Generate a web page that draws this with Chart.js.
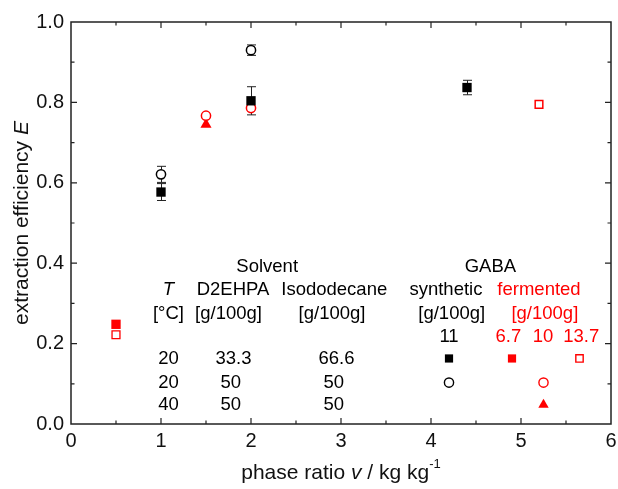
<!DOCTYPE html>
<html>
<head>
<meta charset="utf-8">
<script src="https://cdn.jsdelivr.net/npm/chart.js@4.4.0/dist/chart.umd.min.js"></script>
<style>
  html, body { margin: 0; padding: 0; background: #fff; }
</style>
</head>
<body>
<canvas id="chart" width="618" height="489"></canvas>
<script>
(function() {
    'use strict';

    // Axis ticks
    const xTicks = [0, 1, 2, 3, 4, 5, 6];
    const yTicks = [0, 0.2, 0.4, 0.6, 0.8, 1.0];

    // synthetic GABA 11 g/100g, 20 °C, D2EHPA 33.3 / isododecane 66.6
    const synSquareX = [1, 2, 4.4];
    const synSquareY = [0.577, 0.804, 0.837];
    const synSquareErr = [0.021, 0.035, 0.018];

    // synthetic GABA 11 g/100g, 20 °C, 50 / 50
    const synCircleX = [1, 2];
    const synCircleY = [0.621, 0.930];
    const synCircleErr = [0.020, 0.013];

    // fermented GABA 10 g/100g, 20 °C, 50 / 50
    const ferCircleX = [1.5, 2];
    const ferCircleY = [0.767, 0.786];

    // fermented GABA 10 g/100g, 40 °C, 50 / 50
    const ferTriangleX = [1.5];
    const ferTriangleY = [0.745];

    // fermented GABA 6.7 g/100g, 20 °C, 33.3 / 66.6
    const ferSquareX = [0.5];
    const ferSquareY = [0.248];

    // fermented GABA 13.7 g/100g, 20 °C, 33.3 / 66.6
    const ferOpenSquareX = [5.2];
    const ferOpenSquareY = [0.795];

    // crossed red square
    const ferCrossSquareX = [0.5];
    const ferCrossSquareY = [0.222];

    // legend keys inside the table
    const keyRowY = [0.163, 0.103, 0.048];
    const keySynX = 4.2;
    const keyFer67X = 4.9;
    const keyFer10X = 5.25;
    const keyFer137X = 5.65;

    const RED = '#ff0000';
    const BLACK = '#000000';
    const FONT = '"Liberation Sans", Arial, sans-serif';

    const pts = (xs, ys) => xs.map((x, i) => ({ x: x, y: ys[i] }));

    function series(data, style, radius, fill, stroke, width) {
        return {
            data: data,
            pointStyle: style,
            pointRadius: radius,
            pointHoverRadius: radius,
            pointBackgroundColor: fill,
            pointBorderColor: stroke,
            pointBorderWidth: width,
            showLine: false
        };
    }

    const datasets = [
        Object.assign(series(pts(synSquareX, synSquareY), 'rect', 6.6, BLACK, BLACK, 0), { errors: synSquareErr }),
        Object.assign(series(pts(synCircleX, synCircleY), 'circle', 4.6, '#ffffff', BLACK, 1.5), { errors: synCircleErr }),
        series(pts(ferCircleX, ferCircleY), 'circle', 4.6, '#ffffff', RED, 1.5),
        series(pts(ferTriangleX, ferTriangleY), 'triangle', 6.4, RED, RED, 0),
        series(pts(ferSquareX, ferSquareY), 'rect', 6.6, RED, RED, 0),
        series(pts(ferOpenSquareX, ferOpenSquareY), 'rect', 5.4, '#ffffff', RED, 1.5),
        series(pts(ferCrossSquareX, ferCrossSquareY), 'rect', 5.6, '#ffffff', RED, 1.3),
        series(pts(ferCrossSquareX, ferCrossSquareY), 'cross', 3.6, RED, RED, 1.1),
        // legend keys
        series([{ x: keySynX, y: keyRowY[0] }], 'rect', 5.8, BLACK, BLACK, 0),
        series([{ x: keyFer67X, y: keyRowY[0] }], 'rect', 5.8, RED, RED, 0),
        series([{ x: keyFer137X, y: keyRowY[0] }], 'rect', 5.2, '#ffffff', RED, 1.4),
        series([{ x: keySynX, y: keyRowY[1] }], 'circle', 4.6, '#ffffff', BLACK, 1.4),
        series([{ x: keyFer10X, y: keyRowY[1] }], 'circle', 4.6, '#ffffff', RED, 1.4),
        series([{ x: keyFer10X, y: keyRowY[2] }], 'triangle', 6.0, RED, RED, 0)
    ];

    // Table text in data coordinates
    const tableText = [
        ['Solvent', 2.18, 0.392, BLACK],
        ['GABA', 4.66, 0.392, BLACK],
        ['T', 1.083, 0.333, BLACK, true],
        ['D2EHPA', 1.80, 0.333, BLACK],
        ['Isododecane', 2.925, 0.333, BLACK],
        ['synthetic', 4.166, 0.333, BLACK],
        ['fermented', 5.20, 0.333, RED],
        ['[°C]', 1.083, 0.275, BLACK],
        ['[g/100g]', 1.75, 0.275, BLACK],
        ['[g/100g]', 2.90, 0.275, BLACK],
        ['[g/100g]', 4.23, 0.275, BLACK],
        ['[g/100g]', 5.265, 0.275, RED],
        ['11', 4.2, 0.217, BLACK],
        ['6.7', 4.86, 0.217, RED],
        ['10', 5.245, 0.217, RED],
        ['13.7', 5.67, 0.217, RED],
        ['20', 1.083, 0.161, BLACK],
        ['33.3', 1.806, 0.161, BLACK],
        ['66.6', 2.95, 0.161, BLACK],
        ['20', 1.083, 0.1025, BLACK],
        ['50', 1.775, 0.1025, BLACK],
        ['50', 2.92, 0.1025, BLACK],
        ['40', 1.083, 0.047, BLACK],
        ['50', 1.775, 0.047, BLACK],
        ['50', 2.92, 0.047, BLACK]
    ];

    const errorBarPlugin = {
        id: 'errorBars',
        beforeDatasetsDraw: function(chart) {
            const ctx = chart.ctx;
            const xs = chart.scales.x, ys = chart.scales.y;
            ctx.save();
            ctx.strokeStyle = '#222';
            ctx.lineWidth = 1;
            chart.data.datasets.forEach(ds => {
                if (!ds.errors) return;
                ds.data.forEach((p, i) => {
                    const px = Math.round(xs.getPixelForValue(p.x)) + 0.5;
                    const top = ys.getPixelForValue(p.y + ds.errors[i]);
                    const bot = ys.getPixelForValue(p.y - ds.errors[i]);
                    ctx.beginPath();
                    ctx.moveTo(px, top); ctx.lineTo(px, bot);
                    ctx.moveTo(px - 4.5, top); ctx.lineTo(px + 4.5, top);
                    ctx.moveTo(px - 4.5, bot); ctx.lineTo(px + 4.5, bot);
                    ctx.stroke();
                });
            });
            ctx.restore();
        }
    };

    const framePlugin = {
        id: 'frame',
        afterDatasetsDraw: function(chart) {
            const ctx = chart.ctx;
            const a = chart.chartArea;
            const xs = chart.scales.x, ys = chart.scales.y;
            ctx.save();

            // table text
            ctx.textAlign = 'center';
            ctx.textBaseline = 'middle';
            tableText.forEach(t => {
                ctx.font = (t[4] ? 'italic ' : '') + '18.5px ' + FONT;
                ctx.fillStyle = t[3];
                ctx.fillText(t[0], xs.getPixelForValue(t[1]), ys.getPixelForValue(t[2]));
            });

            // frame with inward ticks on all sides
            ctx.strokeStyle = '#222';
            ctx.lineWidth = 1.5;
            ctx.strokeRect(a.left, a.top, a.right - a.left, a.bottom - a.top);
            ctx.lineWidth = 1.2;
            ctx.beginPath();
            for (let v = 0.5; v < 6; v += 0.5) {
                const px = xs.getPixelForValue(v);
                const len = Number.isInteger(v) ? 6 : 3.5;
                ctx.moveTo(px, a.bottom); ctx.lineTo(px, a.bottom - len);
                ctx.moveTo(px, a.top); ctx.lineTo(px, a.top + len);
            }
            for (let k = 1; k < 10; k++) {
                const py = ys.getPixelForValue(k / 10);
                const len = k % 2 === 0 ? 6 : 3.5;
                ctx.moveTo(a.left, py); ctx.lineTo(a.left + len, py);
                ctx.moveTo(a.right, py); ctx.lineTo(a.right - len, py);
            }
            ctx.stroke();

            // axis titles
            ctx.fillStyle = '#111';
            ctx.textBaseline = 'middle';
            const F = '21px ' + FONT;
            const FI = 'italic 21px ' + FONT;
            ctx.font = F;
            const xMain = 'phase ratio ';
            const xItal = 'v';
            const xRest = ' / kg kg';
            const wMain = ctx.measureText(xMain).width;
            const wRest = ctx.measureText(xRest).width;
            ctx.font = FI;
            const wItal = ctx.measureText(xItal).width;
            ctx.font = '13px ' + FONT;
            const wSup = ctx.measureText('-1').width;
            let cx = (a.left + a.right) / 2 - (wMain + wItal + wRest + wSup) / 2;
            const ty = 473;
            ctx.textAlign = 'left';
            ctx.font = F;
            ctx.fillText(xMain, cx, ty); cx += wMain;
            ctx.font = FI;
            ctx.fillText(xItal, cx, ty); cx += wItal;
            ctx.font = F;
            ctx.fillText(xRest, cx, ty); cx += wRest;
            ctx.font = '13px ' + FONT;
            ctx.fillText('-1', cx, ty - 9);

            ctx.translate(22, (a.top + a.bottom) / 2);
            ctx.rotate(-Math.PI / 2);
            ctx.font = F;
            const yMain = 'extraction efficiency ';
            const wy = ctx.measureText(yMain).width;
            ctx.font = FI;
            const wE = ctx.measureText('E').width;
            const cy = -(wy + wE) / 2;
            ctx.font = F;
            ctx.fillText(yMain, cy, 0);
            ctx.font = FI;
            ctx.fillText('E', cy + wy, 0);
            ctx.restore();
        }
    };

    new Chart(document.getElementById('chart').getContext('2d'), {
        type: 'scatter',
        data: { datasets: datasets },
        options: {
            responsive: false,
            animation: false,
            events: [],
            layout: { padding: { top: 22, right: 0, left: 0, bottom: 0 } },
            plugins: {
                legend: { display: false },
                tooltip: { enabled: false }
            },
            scales: {
                x: {
                    type: 'linear',
                    min: xTicks[0],
                    max: xTicks[xTicks.length - 1],
                    afterBuildTicks: s => { s.ticks = xTicks.map(v => ({ value: v })); },
                    afterFit: s => { s.height = 65; s.paddingRight = 7; },
                    grid: { display: false, drawTicks: false, tickLength: 0 },
                    border: { display: false },
                    ticks: {
                        color: '#111',
                        padding: 5,
                        maxRotation: 0,
                        font: { family: FONT, size: 20 },
                        callback: v => String(v)
                    }
                },
                y: {
                    type: 'linear',
                    min: yTicks[0],
                    max: yTicks[yTicks.length - 1],
                    afterBuildTicks: s => { s.ticks = yTicks.map(v => ({ value: v })); },
                    afterFit: s => { s.width = 71; },
                    grid: { display: false, drawTicks: false, tickLength: 0 },
                    border: { display: false },
                    ticks: {
                        color: '#111',
                        padding: 7,
                        font: { family: FONT, size: 20 },
                        callback: v => v.toFixed(1)
                    }
                }
            }
        },
        plugins: [errorBarPlugin, framePlugin]
    });
})();
</script>
</body>
</html>
